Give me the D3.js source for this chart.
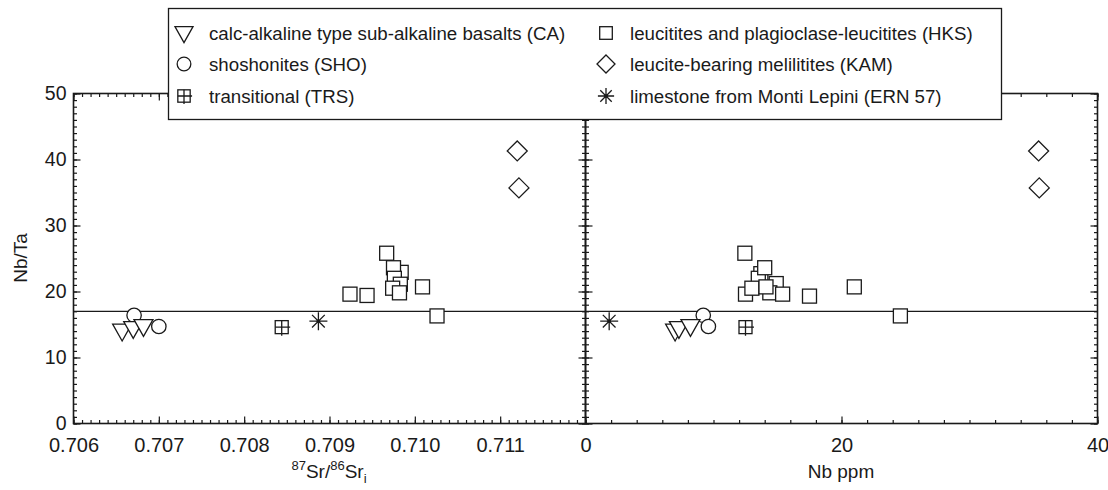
<!DOCTYPE html>
<html><head><meta charset="utf-8">
<script src="https://cdn.jsdelivr.net/npm/d3@7"></script>
<style>
body{margin:0;background:#fff}
svg{display:block}
text{font-family:"Liberation Sans",Arial,Helvetica,sans-serif;fill:#1a1a1a}
</style>
</head><body>
<svg id="c" width="1108" height="490"></svg>
<script>
// ---------- data ----------
// CA: calc-alkaline type sub-alkaline basalts
const caSr = [0.70657, 0.70670, 0.70682];
const caNbTa = [14.2, 14.6, 14.9];
const caNb = [7.0, 7.3, 8.2];
// SHO: shoshonites
const shoSr = [0.70671, 0.70700];
const shoNbTa = [16.4, 14.7];
const shoNb = [9.2, 9.6];
// TRS: transitional
const trsSr = [0.70844];
const trsNbTa = [14.6];
const trsNb = [12.5];
// HKS: leucitites and plagioclase-leucitites (left panel)
const hksSr = [0.70984, 0.70967, 0.70975, 0.70976, 0.70983, 0.70974, 0.70982, 0.70924, 0.70944, 0.71009, 0.71026];
const hksNbTaL = [22.9, 25.8, 23.6, 22.0, 21.1, 20.5, 19.8, 19.6, 19.4, 20.7, 16.3];
// HKS (right panel)
const hksNb = [13.7, 13.5, 12.45, 14.0, 14.9, 12.5, 14.4, 15.4, 13.0, 14.1, 17.5, 21.0, 24.6];
const hksNbTaR = [22.7, 22.0, 25.8, 23.6, 21.2, 19.6, 19.8, 19.6, 20.5, 20.7, 19.3, 20.7, 16.3];
// KAM: leucite-bearing melilitites
const kamSr = [0.71120, 0.71122];
const kamNbTa = [41.3, 35.7];
const kamNb = [35.4, 35.45];
// ERN 57: limestone from Monti Lepini
const ernSr = [0.70887];
const ernNbTa = [15.5];
const ernNb = [1.85];
// reference line
const refNbTa = 17;
// ticks
const srMajor = [0.706, 0.707, 0.708, 0.709, 0.710, 0.711];
const nbMajor = [0, 20, 40];
const yMajor = [0, 10, 20, 30, 40, 50];
const legendLeft = ["calc-alkaline type sub-alkaline basalts (CA)", "shoshonites (SHO)", "transitional (TRS)"];
const legendRight = ["leucitites and plagioclase-leucitites (HKS)", "leucite-bearing melilitites (KAM)", "limestone from Monti Lepini (ERN 57)"];

// ---------- scales ----------
const svg = d3.select("#c");
const INK = "#1a1a1a";
const xL = d3.scaleLinear().domain([0.706, 0.712]).range([73.5, 585.5]);
const xR = d3.scaleLinear().domain([0, 40]).range([585.5, 1097.5]);
const y = d3.scaleLinear().domain([0, 50]).range([423.5, 93.5]);

const srMinor = d3.range(0, 61).map(i => +(0.706 + i * 0.0001).toFixed(4));
const nbMinor = d3.range(0, 21).map(i => i * 2);
const yMinor = d3.range(0, 51);

function styleAxis(g, fs) {
  g.select(".domain").remove();
  g.selectAll("line").attr("stroke", INK).attr("stroke-width", 1.2);
  g.selectAll("text").attr("font-size", fs || 20).style("fill", INK);
}
function drawAxes(x, major, minor, fmt, yLabels) {
  const [x0, x1] = x.range();
  const [yb, yt] = y.range();
  // bottom
  svg.append("g").attr("transform", `translate(0,${yb})`)
    .call(d3.axisBottom(x).tickValues(minor).tickSize(-3.5).tickFormat("")).call(styleAxis);
  svg.append("g").attr("transform", `translate(0,${yb})`)
    .call(d3.axisBottom(x).tickValues(major).tickSize(-7).tickPadding(14).tickFormat(fmt)).call(styleAxis, 20);
  // top
  svg.append("g").attr("transform", `translate(0,${yt})`)
    .call(d3.axisTop(x).tickValues(minor).tickSize(-3.5).tickFormat("")).call(styleAxis);
  svg.append("g").attr("transform", `translate(0,${yt})`)
    .call(d3.axisTop(x).tickValues(major).tickSize(-7).tickFormat("")).call(styleAxis);
  // left
  svg.append("g").attr("transform", `translate(${x0},0)`)
    .call(d3.axisLeft(y).tickValues(yMinor).tickSize(-3.5).tickFormat("")).call(styleAxis);
  svg.append("g").attr("transform", `translate(${x0},0)`)
    .call(d3.axisLeft(y).tickValues(yMajor).tickSize(-7).tickPadding(7)
      .tickFormat(yLabels ? d3.format("d") : "")).call(styleAxis, 19.5);
  // right
  svg.append("g").attr("transform", `translate(${x1},0)`)
    .call(d3.axisRight(y).tickValues(yMinor).tickSize(-3.5).tickFormat("")).call(styleAxis);
  svg.append("g").attr("transform", `translate(${x1},0)`)
    .call(d3.axisRight(y).tickValues(yMajor).tickSize(-7).tickFormat("")).call(styleAxis);
  // frame
  svg.append("rect").attr("x", x0).attr("y", yt).attr("width", x1 - x0).attr("height", yb - yt)
    .attr("fill", "none").attr("stroke", INK).attr("stroke-width", 1.6);
}

drawAxes(xL, srMajor, srMinor, d3.format(".3f"), true);
drawAxes(xR, nbMajor, nbMinor, d3.format("d"), false);

// reference line across both panels
svg.append("line").attr("x1", xL.range()[0]).attr("x2", xR.range()[1])
  .attr("y1", y(refNbTa)).attr("y2", y(refNbTa)).attr("stroke", INK).attr("stroke-width", 1.2);

// ---------- symbols ----------
const SW = 1.3;
function tri(g) { g.append("path").attr("d", "M-9.5,-5.6L9.5,-5.6L0,11.2Z"); }
function circ(g) { g.append("circle").attr("r", 7.2); }
function sq(g) { g.append("rect").attr("x", -7).attr("y", -7).attr("width", 14).attr("height", 14); }
function diam(g) { g.append("path").attr("d", "M0,-10L10,0L0,10L-10,0Z"); }
function trs(g) {
  g.append("rect").attr("x", -6.5).attr("y", -6.5).attr("width", 13).attr("height", 13);
  g.append("path").attr("d", "M0,-6.5L0,8.5M-6.5,0L8.5,0").attr("fill", "none");
}
function star(g) {
  const r = 9;
  const d = r * Math.SQRT1_2;
  g.append("path").attr("d", `M0,${-r}L0,${r}M${-r},0L${r},0M${-d},${-d}L${d},${d}M${-d},${d}L${d},${-d}`).attr("fill", "none");
  g.append("circle").attr("r", 1.8).attr("fill", INK).attr("stroke", "none");
}
function plot(xs, ys, xScale, shape) {
  xs.forEach((v, i) => {
    const g = svg.append("g").attr("transform", `translate(${xScale(v)},${y(ys[i])})`)
      .attr("fill", "#fff").attr("stroke", INK).attr("stroke-width", SW);
    shape(g);
  });
}
// left panel
plot(shoSr, shoNbTa, xL, circ);
plot(caSr, caNbTa, xL, tri);
plot(trsSr, trsNbTa, xL, trs);
plot(ernSr, ernNbTa, xL, star);
plot(hksSr, hksNbTaL, xL, sq);
plot(kamSr, kamNbTa, xL, diam);
// right panel
plot(shoNb, shoNbTa, xR, circ);
plot(caNb, caNbTa, xR, tri);
plot(trsNb, trsNbTa, xR, trs);
plot(ernNb, ernNbTa, xR, star);
plot(hksNb, hksNbTaR, xR, sq);
plot(kamNb, kamNbTa, xR, diam);

// ---------- axis titles ----------
svg.append("text").attr("transform", "translate(27,258) rotate(-90)")
  .attr("text-anchor", "middle").attr("font-size", 19).text("Nb/Ta");
const xt = svg.append("text").attr("x", 329).attr("y", 478).attr("text-anchor", "middle").attr("font-size", 19);
xt.append("tspan").attr("font-size", 13).attr("dy", -8).text("87");
xt.append("tspan").attr("dy", 8).text("Sr/");
xt.append("tspan").attr("font-size", 13).attr("dy", -8).text("86");
xt.append("tspan").attr("dy", 8).text("Sr");
xt.append("tspan").attr("font-size", 13).attr("dy", 5).text("i");
svg.append("text").attr("x", 841).attr("y", 478).attr("text-anchor", "middle").attr("font-size", 19).text("Nb ppm");

// ---------- legend ----------
svg.append("rect").attr("x", 168.5).attr("y", 8.5).attr("width", 833).attr("height", 111)
  .attr("fill", "#fff").attr("stroke", INK).attr("stroke-width", 1.3);
const rowsY = [33, 64, 96];
const leftShapes = [tri, circ, trs];
const rightShapes = [sq, diam, star];
function legendSym(cx, cy, shape, scale) {
  const g = svg.append("g").attr("transform", `translate(${cx},${cy}) scale(${scale})`)
    .attr("fill", "#fff").attr("stroke", INK).attr("stroke-width", SW / scale);
  shape(g);
}
legendLeft.forEach((t, i) => {
  legendSym(184, rowsY[i] + (i === 0 ? -1 : 0), leftShapes[i], 0.95);
  svg.append("text").attr("x", 209).attr("y", rowsY[i]).attr("dy", "0.35em").attr("font-size", 18.7).text(t);
});
legendRight.forEach((t, i) => {
  legendSym(606, rowsY[i], rightShapes[i], 0.9);
  svg.append("text").attr("x", 630).attr("y", rowsY[i]).attr("dy", "0.35em").attr("font-size", 18.7).text(t);
});
</script>
</body></html>
